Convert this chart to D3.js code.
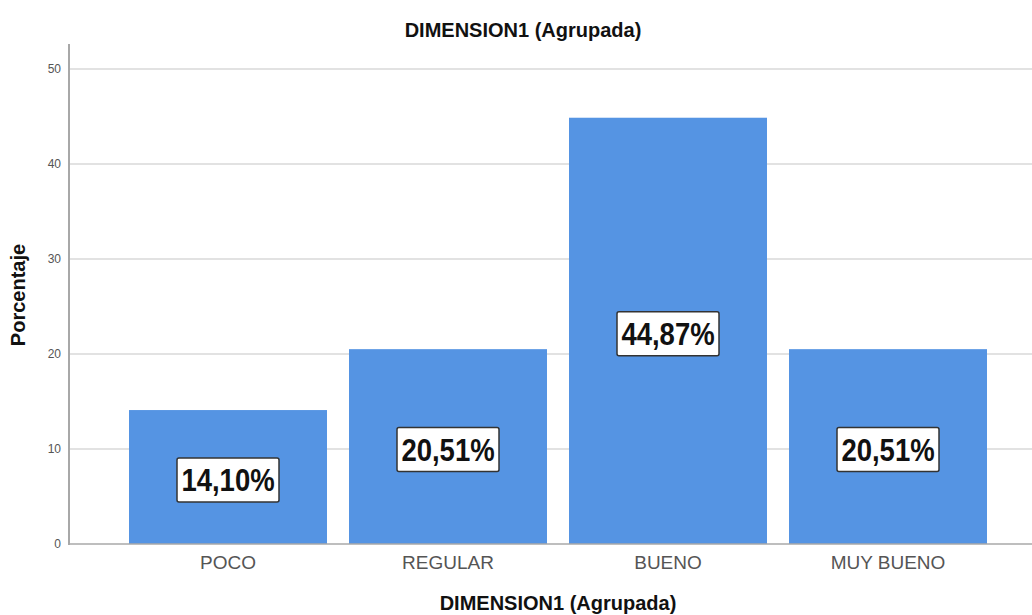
<!DOCTYPE html>
<html>
<head>
<meta charset="utf-8">
<script src="https://cdn.jsdelivr.net/npm/d3@7"></script>
<style>
  body { margin: 0; background: #fff; }
  text { font-family: "Liberation Sans", Arial, sans-serif; }
</style>
</head>
<body>
<div id="chart"></div>
<script>
// chart data
var categories = ["POCO", "REGULAR", "BUENO", "MUY BUENO"];
var percents = [14.10, 20.51, 44.87, 20.51];
var labels = ["14,10%", "20,51%", "44,87%", "20,51%"];
var yTicks = [0, 10, 20, 30, 40, 50];

var W = 1032, H = 615;

var svg = d3.select("#chart").append("svg")
    .attr("width", W)
    .attr("height", H);

var x = d3.scaleBand()
    .domain(categories)
    .range([118, 998])
    .paddingInner(0.1)
    .paddingOuter(0.05);

var y = d3.scaleLinear()
    .domain([0, 50])
    .range([544, 69]);

// gridlines
svg.selectAll(".grid")
    .data(yTicks.slice(1))
    .enter().append("line")
    .attr("x1", 69).attr("x2", W)
    .attr("y1", function (d) { return y(d); })
    .attr("y2", function (d) { return y(d); })
    .attr("stroke", "#d9d9d9")
    .attr("stroke-width", 1.5);

// bars
svg.selectAll(".bar")
    .data(percents)
    .enter().append("rect")
    .attr("class", "bar")
    .attr("x", function (d, i) { return x(categories[i]); })
    .attr("width", x.bandwidth())
    .attr("y", function (d) { return y(d); })
    .attr("height", function (d) { return y(0) - y(d); })
    .attr("fill", "#5594e3");

// y axis
var yAxis = d3.axisLeft(y).tickValues(yTicks).tickSize(0).tickPadding(8);
var gy = svg.append("g")
    .attr("transform", "translate(69,0)")
    .call(yAxis);
gy.select(".domain").remove();
gy.selectAll("text")
    .attr("fill", "#555")
    .style("font-size", "12px");
svg.append("line")
    .attr("x1", 69).attr("x2", 69)
    .attr("y1", 44).attr("y2", 545)
    .attr("stroke", "#a8a8a8")
    .attr("stroke-width", 2);

// x axis
var xAxis = d3.axisBottom(x).tickSize(0).tickPadding(12);
var gx = svg.append("g")
    .attr("transform", "translate(0,544)")
    .call(xAxis);
gx.select(".domain").remove();
gx.selectAll("text")
    .attr("fill", "#555")
    .style("font-size", "19px");
svg.append("line")
    .attr("x1", 68).attr("x2", W)
    .attr("y1", 544).attr("y2", 544)
    .attr("stroke", "#a8a8a8")
    .attr("stroke-width", 1.5);

// value labels in boxes
var lab = svg.selectAll(".lab")
    .data(percents)
    .enter().append("g")
    .attr("class", "lab")
    .attr("transform", function (d, i) {
        return "translate(" + (x(categories[i]) + x.bandwidth() / 2) + "," + ((y(d) + y(0)) / 2 + 3) + ")";
    });
lab.append("rect")
    .attr("x", -51).attr("y", -22)
    .attr("width", 102).attr("height", 44)
    .attr("rx", 2)
    .attr("fill", "#fff")
    .attr("stroke", "#333")
    .attr("stroke-width", 1.5);
lab.append("text")
    .attr("text-anchor", "middle")
    .attr("dy", "0.36em")
    .attr("transform", "scale(1,1.15)")
    .style("font-size", "27.5px")
    .style("font-weight", "bold")
    .attr("fill", "#111")
    .text(function (d, i) { return labels[i]; });

// titles
svg.append("text")
    .attr("x", 523).attr("y", 37)
    .attr("text-anchor", "middle")
    .style("font-size", "20px")
    .style("font-weight", "bold")
    .attr("fill", "#111")
    .text("DIMENSION1 (Agrupada)");

svg.append("text")
    .attr("x", 558).attr("y", 610)
    .attr("text-anchor", "middle")
    .style("font-size", "20px")
    .style("font-weight", "bold")
    .attr("fill", "#111")
    .text("DIMENSION1 (Agrupada)");

svg.append("text")
    .attr("transform", "translate(25,295) rotate(-90)")
    .attr("text-anchor", "middle")
    .style("font-size", "20px")
    .style("font-weight", "bold")
    .attr("fill", "#111")
    .text("Porcentaje");
</script>
</body>
</html>
